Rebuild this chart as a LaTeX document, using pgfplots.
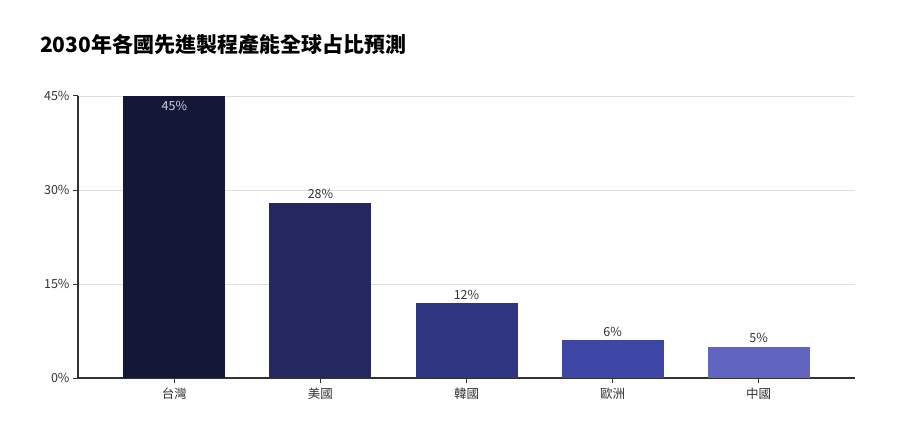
\documentclass[border=0pt]{standalone}
\usepackage{pgfplots}
\pgfplotsset{compat=1.18}
\usepackage{fontspec}
\setmainfont{Noto Sans CJK TC}
\definecolor{c1}{HTML}{141838}
\definecolor{c2}{HTML}{25285F}
\definecolor{c3}{HTML}{2F3581}
\definecolor{c4}{HTML}{3F47A6}
\definecolor{c5}{HTML}{6165C0}
\definecolor{axc}{HTML}{333333}
\definecolor{txt}{HTML}{333333}
\begin{document}
\begin{tikzpicture}
\path[use as bounding box] (0,0) rectangle (900bp,443bp);
\node[anchor=base west,inner sep=0pt,font=\fontsize{21bp}{24bp}\selectfont\bfseries] at (40bp,390bp) {2030年各國先進製程產能全球占比預測};
\begin{axis}[
  at={(78bp,65bp)}, anchor=south west,
  scale only axis, width=777bp, height=282bp,
  xmin=-0.66, xmax=4.66, ymin=0, ymax=45,
  axis x line*=bottom, axis y line*=left,
  axis line style={axc, line width=1.3pt},
  ytick={0,15,30,45},
  yticklabels={0\%,15\%,30\%,45\%},
  xtick={0,1,2,3,4},
  xticklabels={台灣,美國,韓國,歐洲,中國},
  tick style={axc, line width=1pt},
  major tick length=5bp,
  tick align=outside,
  ymajorgrids, grid style={draw=black!13, line width=0.6pt},
  ticklabel style={font=\fontsize{12.5bp}{14bp}\selectfont, text=txt},
  /pgf/number format/assume math mode=true,
  xticklabel style={yshift=-1bp},
  ybar, bar width=102bp, bar shift=0pt,
  nodes near coords={\pgfmathprintnumber{\pgfplotspointmeta}\%},
  every node near coord/.append style={font=\fontsize{12.5bp}{14bp}\selectfont, text=txt},
  clip=false,
]
\addplot[fill=c1, draw=none, every node near coord/.append style={anchor=north, text=white!80!c1, yshift=-2bp}] coordinates {(0,45)};
\addplot[fill=c2, draw=none] coordinates {(1,28)};
\addplot[fill=c3, draw=none] coordinates {(2,12)};
\addplot[fill=c4, draw=none] coordinates {(3,6)};
\addplot[fill=c5, draw=none] coordinates {(4,5)};
\end{axis}
\end{tikzpicture}
\end{document}
